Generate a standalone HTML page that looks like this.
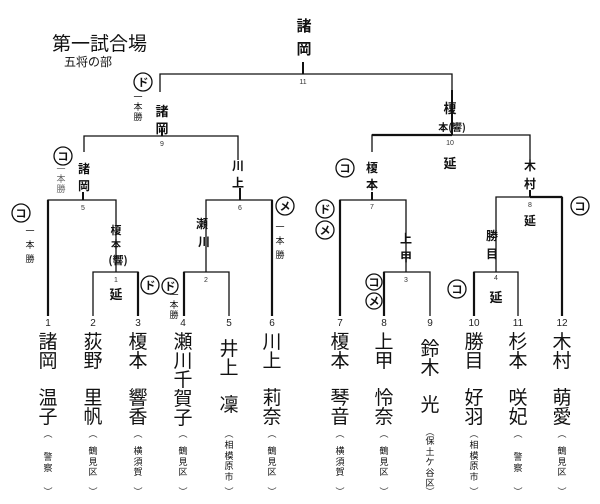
<!DOCTYPE html>
<html><head><meta charset="utf-8">
<style>
html,body{margin:0;padding:0;background:#fff;}
body{width:600px;height:504px;position:relative;overflow:hidden;font-family:"Liberation Sans","Noto Sans CJK JP",sans-serif;color:#111;}
.v{position:absolute;width:22px;text-align:center;font-size:19px;line-height:19px;word-break:break-all;}
.r{position:absolute;width:12px;text-align:center;font-size:9px;line-height:10.5px;word-break:break-all;}
.p{position:absolute;width:12px;text-align:center;font-size:9px;line-height:9px;}
</style></head><body>
<svg width="600" height="504" style="position:absolute;left:0;top:0" font-family="Liberation Sans, Noto Sans CJK JP, sans-serif">
<g stroke="#111" stroke-width="1.3" fill="none">
<!-- final -->
<line x1="303" y1="62" x2="303" y2="74" stroke-width="2"/>
<polyline points="160,92 160,74 452,74 452,90"/>
<!-- semis -->
<line x1="162" y1="128" x2="162" y2="136" stroke-width="2"/>
<polyline points="84,152 84,136 238,136 238,160"/>
<line x1="452" y1="90" x2="452" y2="135" stroke-width="2"/>
<polyline points="372,152 372,135 530,135 530,160" />
<!-- quarter -->
<line x1="83" y1="192" x2="83" y2="200" stroke-width="2"/>
<polyline points="48,316 48,200 116,200 116,272"/>
<line x1="240" y1="188" x2="240" y2="200" stroke-width="2"/>
<polyline points="206,272 206,200 272,200 272,316"/>
<line x1="372" y1="192" x2="372" y2="200" stroke-width="2"/>
<polyline points="340,316 340,200 406,200 406,272"/>
<line x1="530" y1="190" x2="530" y2="197" stroke-width="2"/>
<polyline points="496,272 496,197 562,197 562,316"/>
<!-- first round -->
<polyline points="93,316 93,272 138,272 138,316"/>
<polyline points="184,316 184,272 229,272 229,316"/>
<polyline points="384,316 384,272 430,272 430,316"/>
<polyline points="474,316 474,272 518,272 518,316"/>
</g>
<g stroke="#111" stroke-width="2.2">
<line x1="48" y1="200" x2="48" y2="316"/><line x1="138" y1="272" x2="138" y2="316"/>
<line x1="184" y1="272" x2="184" y2="316"/><line x1="272" y1="200" x2="272" y2="316"/>
<line x1="340" y1="200" x2="340" y2="316"/><line x1="384" y1="272" x2="384" y2="316"/>
<line x1="474" y1="272" x2="474" y2="316"/><line x1="562" y1="197" x2="562" y2="316"/>
<line x1="372" y1="135" x2="452" y2="135"/><line x1="530" y1="197" x2="562" y2="197"/>
</g>
<g font-size="7" text-anchor="middle" fill="#333">
<text x="303" y="84">11</text><text x="162" y="146">9</text><text x="450" y="145">10</text>
<text x="83" y="210">5</text><text x="240" y="210">6</text><text x="372" y="209">7</text><text x="530" y="207">8</text>
<text x="116" y="282">1</text><text x="206" y="282">2</text><text x="406" y="282">3</text><text x="496" y="280">4</text>
</g>
<g font-size="10" text-anchor="middle" fill="#222">
<text x="48" y="326">1</text><text x="93" y="326">2</text><text x="138" y="326">3</text><text x="183" y="326">4</text>
<text x="229" y="326">5</text><text x="272" y="326">6</text><text x="340" y="326">7</text><text x="384" y="326">8</text>
<text x="430" y="326">9</text><text x="474" y="326">10</text><text x="518" y="326">11</text><text x="562" y="326">12</text>
</g>
<text x="52" y="50" font-size="19" fill="#111">第一試合場</text>
<text x="64" y="66" font-size="12" fill="#111">五将の部</text>
<!-- handwritten -->
<g fill="#111" font-family="Noto Sans CJK JP, sans-serif" font-weight="bold" text-anchor="middle">
<text x="304" y="31" font-size="15">諸</text><text x="304" y="54" font-size="15">岡</text>
<text x="162" y="116" font-size="13">諸</text><text x="162" y="133" font-size="13">岡</text>
<text x="84" y="173" font-size="12">諸</text><text x="84" y="190" font-size="12">岡</text>
<text x="238" y="170" font-size="12">川</text><text x="238" y="187" font-size="12">上</text>
<text x="450" y="113" font-size="13">榎</text><text x="452" y="131" font-size="10">本(響)</text>
<text x="372" y="172" font-size="12">榎</text><text x="372" y="189" font-size="12">本</text>
<text x="530" y="170" font-size="12">木</text><text x="530" y="188" font-size="12">村</text>
<text x="450" y="168" font-size="13">延</text>
<text x="116" y="234" font-size="11">榎</text><text x="116" y="248" font-size="10">本</text><text x="118" y="264" font-size="11">(響)</text>
<text x="116" y="299" font-size="13">延</text>
<text x="202" y="228" font-size="12">瀬</text><text x="204" y="246" font-size="12">川</text>
<text x="406" y="243" font-size="12">上</text><text x="406" y="261" font-size="12">甲</text>
<text x="492" y="240" font-size="12">勝</text><text x="492" y="258" font-size="12">目</text>
<text x="496" y="302" font-size="13">延</text>
<text x="530" y="225" font-size="12">延</text>
</g>
<g fill="#111" font-family="Noto Sans CJK JP, sans-serif" font-size="9" text-anchor="middle">
<text x="138" y="100">一</text><text x="138" y="110">本</text><text x="138" y="120">勝</text>
<text x="61" y="172" fill="#666">一</text><text x="61" y="182" fill="#666">本</text><text x="61" y="192" fill="#666">勝</text>
<text x="30" y="234">一</text><text x="30" y="248">本</text><text x="30" y="262">勝</text>
<text x="280" y="230">一</text><text x="280" y="244">本</text><text x="280" y="258">勝</text>
<text x="174" y="298">一</text><text x="174" y="308">本</text><text x="174" y="318">勝</text>
</g>
<g stroke="#111" stroke-width="1.3" fill="#fff" font-family="Noto Sans CJK JP, sans-serif" font-size="11" text-anchor="middle">
<circle cx="143" cy="82" r="9"/><circle cx="63" cy="156" r="9"/><circle cx="345" cy="168" r="9"/>
<circle cx="21" cy="213" r="9"/><circle cx="150" cy="285" r="9"/><circle cx="170" cy="286" r="8"/>
<circle cx="285" cy="206" r="9"/><circle cx="325" cy="209" r="9"/><circle cx="325" cy="230" r="9"/>
<circle cx="374" cy="282" r="8"/><circle cx="374" cy="301" r="8"/><circle cx="457" cy="289" r="9"/>
<circle cx="580" cy="206" r="9"/>
</g>
<g fill="#111" font-family="Noto Sans CJK JP, sans-serif" font-size="11" text-anchor="middle" font-weight="bold">
<text x="143" y="86">ド</text><text x="63" y="160">コ</text><text x="345" y="172">コ</text>
<text x="21" y="217">コ</text><text x="150" y="289">ド</text><text x="170" y="290">ド</text>
<text x="285" y="210">メ</text><text x="325" y="213">ド</text><text x="325" y="234">メ</text>
<text x="374" y="286">コ</text><text x="374" y="305">メ</text><text x="457" y="293">コ</text>
<text x="580" y="210">コ</text>
</g>
</svg>

<!-- names -->
<div class="v" style="left:37px;top:333px">諸岡</div><div class="v" style="left:37px;top:389px">温子</div>
<div class="v" style="left:82px;top:333px">荻野</div><div class="v" style="left:82px;top:389px">里帆</div>
<div class="v" style="left:127px;top:333px">榎本</div><div class="v" style="left:127px;top:389px">響香</div>
<div class="v" style="left:172px;top:333px">瀬川千賀子</div>
<div class="v" style="left:218px;top:340px">井上</div><div class="v" style="left:218px;top:396px">凜</div>
<div class="v" style="left:261px;top:333px">川上</div><div class="v" style="left:261px;top:389px">莉奈</div>
<div class="v" style="left:329px;top:333px">榎本</div><div class="v" style="left:329px;top:389px">琴音</div>
<div class="v" style="left:373px;top:333px">上甲</div><div class="v" style="left:373px;top:389px">怜奈</div>
<div class="v" style="left:419px;top:340px">鈴木</div><div class="v" style="left:419px;top:396px">光</div>
<div class="v" style="left:463px;top:333px">勝目</div><div class="v" style="left:463px;top:389px">好羽</div>
<div class="v" style="left:507px;top:333px">杉本</div><div class="v" style="left:507px;top:389px">咲妃</div>
<div class="v" style="left:551px;top:333px">木村</div><div class="v" style="left:551px;top:389px">萌愛</div>

<!-- parens & regions -->
<div class="p" style="left:42px;top:430px">︵</div><div class="p" style="left:42px;top:488px">︶</div><div class="r" style="left:42px;top:452px">警察</div>
<div class="p" style="left:87px;top:430px">︵</div><div class="p" style="left:87px;top:488px">︶</div><div class="r" style="left:87px;top:446px">鶴見区</div>
<div class="p" style="left:132px;top:430px">︵</div><div class="p" style="left:132px;top:488px">︶</div><div class="r" style="left:132px;top:446px">横須賀</div>
<div class="p" style="left:177px;top:430px">︵</div><div class="p" style="left:177px;top:488px">︶</div><div class="r" style="left:177px;top:446px">鶴見区</div>
<div class="p" style="left:223px;top:430px">︵</div><div class="p" style="left:223px;top:488px">︶</div><div class="r" style="left:223px;top:440px">相模原市</div>
<div class="p" style="left:266px;top:430px">︵</div><div class="p" style="left:266px;top:488px">︶</div><div class="r" style="left:266px;top:446px">鶴見区</div>
<div class="p" style="left:334px;top:430px">︵</div><div class="p" style="left:334px;top:488px">︶</div><div class="r" style="left:334px;top:446px">横須賀</div>
<div class="p" style="left:378px;top:430px">︵</div><div class="p" style="left:378px;top:488px">︶</div><div class="r" style="left:378px;top:446px">鶴見区</div>
<div class="p" style="left:424px;top:428px">︵</div><div class="p" style="left:424px;top:488px">︶</div><div class="r" style="left:424px;top:436px">保土ケ谷区</div>
<div class="p" style="left:468px;top:430px">︵</div><div class="p" style="left:468px;top:488px">︶</div><div class="r" style="left:468px;top:440px">相模原市</div>
<div class="p" style="left:512px;top:430px">︵</div><div class="p" style="left:512px;top:488px">︶</div><div class="r" style="left:512px;top:452px">警察</div>
<div class="p" style="left:556px;top:430px">︵</div><div class="p" style="left:556px;top:488px">︶</div><div class="r" style="left:556px;top:446px">鶴見区</div>
</body></html>
